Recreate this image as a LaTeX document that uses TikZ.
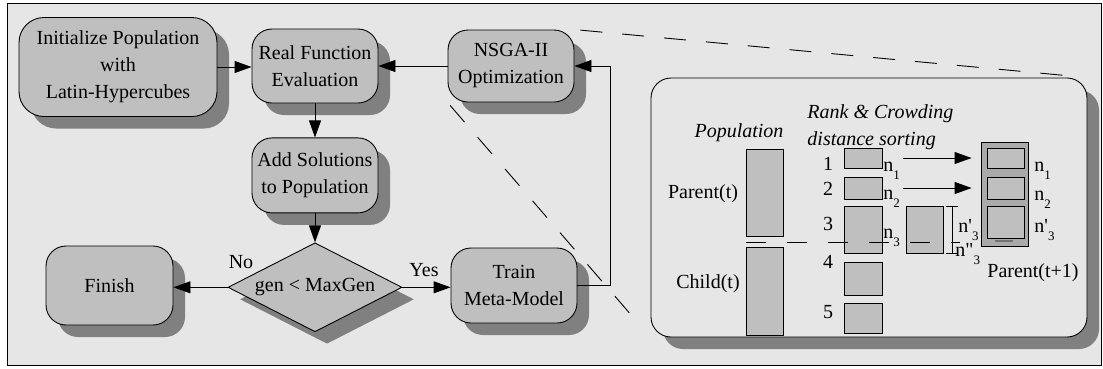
\documentclass[tikz,border=0pt]{standalone}
\usepackage{fontspec}
\setmainfont{Liberation Serif}
\usetikzlibrary{shapes.geometric,arrows.meta,positioning,shadows,calc}
\definecolor{bgcol}{RGB}{230,230,230}
\definecolor{boxcol}{RGB}{191,191,191}
\definecolor{shadecol}{RGB}{128,128,128}
\definecolor{packcol}{RGB}{170,170,170}
\newcommand{\nidx}[2]{n#1\raisebox{-8pt}{\fontsize{13}{13}\selectfont #2}}

\begin{document}
\begin{tikzpicture}[
    x=1pt, y=-1pt,
    font=\fontsize{20}{27}\selectfont,
    line width=0.9pt,
    shade/.style={drop shadow={shadow xshift=12pt, shadow yshift=-12pt, fill=shadecol, opacity=1}},
    proc/.style={rectangle, rounded corners=20pt, draw, fill=boxcol, align=center, inner sep=0pt, minimum width=126pt, minimum height=74pt, shade},
    decide/.style={diamond, aspect=1.96, draw, fill=boxcol, inner sep=0pt, minimum width=174pt, minimum height=89pt, shade},
    panel/.style={rectangle, rounded corners=20pt, draw, fill=bgcol, minimum width=436pt, minimum height=259pt, shade},
    slot/.style={rectangle, draw, fill=boxcol, inner sep=0pt, minimum width=38pt},
    lbl/.style={anchor=base, inner sep=0pt},
    sublbl/.style={anchor=base west, inner sep=0pt},
    line/.style={draw, -{Triangle[length=17pt,width=12pt]}},
    zoomline/.style={draw, dash pattern=on 22pt off 20pt}
]
    \useasboundingbox (0,0) rectangle (1103,368);
    \draw[fill=bgcol, line width=1pt] (7,3) rectangle (1101,365);

    \node[proc, rounded corners=25pt, minimum width=198pt, minimum height=99pt] (init) at (118,67) {Initialize Population\\with\\Latin-Hypercubes};
    \node[proc] (real) at (315,66) {Real Function\\Evaluation};
    \node[proc, minimum height=72pt] (nsga) at (511,66) {NSGA-II\\Optimization};
    \node[proc, minimum height=75pt, below=34pt of real] (add) {Add Solutions\\to Population};
    \node[decide, below=29pt of add] (dec) {gen < MaxGen};
    \node[proc, minimum width=127pt, minimum height=79pt] (finish) at (109.5,285.5) {Finish};
    \node[proc, minimum height=75pt] (train) at (514,285.5) {Train\\Meta-Model};

    \node[lbl] (no) at (241,268) {No};
    \node[lbl] (yes) at (424,276) {Yes};

    \draw[line] (init.east) -- (init.east -| real.west);
    \draw[line] (real) -- (add);
    \draw[line] (add) -- (dec);
    \draw[line] (dec.west) -- (dec.west -| finish.east);
    \draw[line] (dec.east) -- (dec.east -| train.west);
    \draw[line] (train.east) -- ++(33,0) |- (nsga.east);
    \draw[line] (nsga) -- (real);

    \node[panel] (popbox) at (869,207.5) {};
    \draw[zoomline, shorten <=6pt, shorten >=10pt] (nsga.north east) -- (popbox.north east);
    \draw[zoomline, shorten <=4pt, shorten >=16pt] (nsga.south west) -- (popbox.south west);

    \node[lbl] (poplab) at (739,137) {\itshape Population};
    \node[sublbl] (rank1) at (807,118) {\itshape Rank \& Crowding};
    \node[sublbl] (rank2) at (807,145) {\itshape distance sorting};

    \node[slot, minimum width=37pt, minimum height=87pt] (parent) at (764.5,192.5) {};
    \node[slot, minimum width=37pt, minimum height=88pt] (child) at (764.5,291) {};
    \node[lbl] (parentlab) at (703,198) {Parent(t)};
    \node[lbl] (childlab) at (708,288) {Child(t)};

    \foreach \k/\yc/\h/\yb in {1/158/20/170, 2/188/22/195, 3/229.5/47/230, 4/278.5/33/268, 5/318/30/318} {
        \node[slot, minimum height=\h pt] (r\k) at (863,\yc) {};
        \node[lbl] (num\k) at (828,\yb) {\k};
    }
    \node[sublbl] (rn1) at (883,171) {\nidx{}{1}};
    \node[sublbl] (rn2) at (883,199) {\nidx{}{2}};
    \node[sublbl] (rn3) at (883,238) {\nidx{}{3}};

    \node[slot, minimum width=37pt, minimum height=47pt] (split) at (924.5,229.5) {};
    \draw (946,206) -- (958,206) (952,206) -- (952,253) (946,253) -- (958,253);
    \node[sublbl] (sn1) at (958,232) {\nidx{\textquotesingle}{3}};
    \node[sublbl] (sn2) at (955,256) {\nidx{\textquotedbl}{3}};

    \draw[dash pattern=on 20pt off 21pt] (746,242) -- (960,242);

    \node[rectangle, draw, fill=packcol, minimum width=47pt, minimum height=104pt] (pack) at (1004.5,194) {};
    \node[slot, minimum width=37pt, minimum height=20pt] (q1) at (1005.5,158) {};
    \node[slot, minimum width=37pt, minimum height=22pt] (q2) at (1005.5,188) {};
    \node[slot, minimum width=37pt, minimum height=32pt] (q3) at (1005.5,222) {};
    \draw[line width=2pt, draw=black!55] (995,241) -- (1013,241);
    \node[sublbl] (qn1) at (1034,171) {\nidx{}{1}};
    \node[sublbl] (qn2) at (1034,200) {\nidx{}{2}};
    \node[sublbl] (qn3) at (1034,232) {\nidx{\textquotesingle}{3}};
    \node[lbl] (nextlab) at (1033,277) {Parent(t+1)};

    \draw[line, shorten <=21pt, shorten >=15pt] (r1.east) -- (q1.west);
    \draw[line, shorten <=21pt, shorten >=15pt] (r2.east) -- (q2.west);
\end{tikzpicture}
\end{document}
